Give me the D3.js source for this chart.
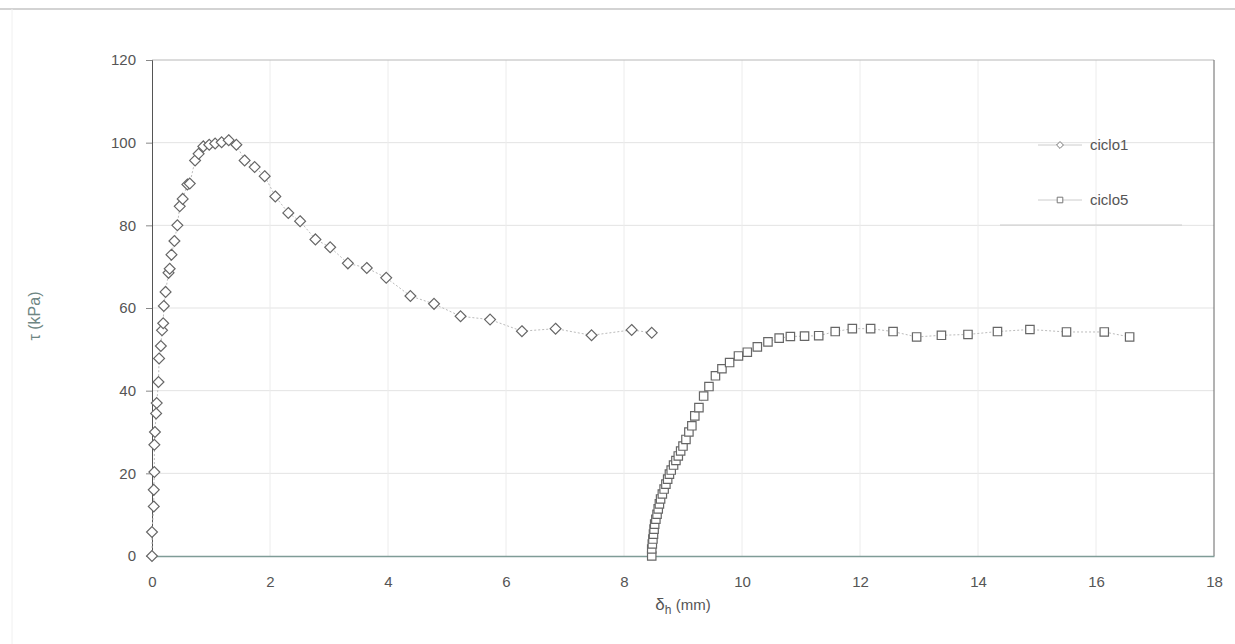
<!DOCTYPE html>
<html><head><meta charset="utf-8">
<script src="https://cdn.jsdelivr.net/npm/d3@7"></script>
<style>body{margin:0;background:#fff}svg{display:block}text{font-family:"Liberation Sans",Arial,sans-serif}</style>
</head><body><svg id="c" width="1235" height="644"></svg>
<script>
const ciclo1X = [0,0,0.03,0.03,0.04,0.04,0.05,0.07,0.08,0.11,0.12,0.15,0.17,0.19,0.2,0.23,0.28,0.3,0.33,0.38,0.43,0.47,0.52,0.6,0.64,0.73,0.79,0.87,0.97,1.07,1.18,1.3,1.43,1.57,1.74,1.91,2.09,2.31,2.51,2.77,3.02,3.32,3.64,3.97,4.38,4.78,5.23,5.73,6.27,6.84,7.45,8.13,8.47];
const ciclo1Y = [0,5.8,12,16,20.3,26.9,30,34.5,37,42.1,47.8,50.8,54.6,56.3,60.5,63.9,68.5,69.5,72.9,76.2,80,84.6,86.4,89.9,90.1,95.7,97.3,99.1,99.5,99.8,100.1,100.6,99.5,95.7,94.1,91.9,87,83,81,76.6,74.7,70.8,69.7,67.3,62.9,61,58,57.2,54.4,55,53.4,54.7,54];
const ciclo5X = [8.47,8.47,8.48,8.49,8.5,8.51,8.52,8.54,8.56,8.58,8.6,8.62,8.65,8.68,8.71,8.74,8.77,8.8,8.84,8.88,8.92,8.96,9.0,9.05,9.1,9.15,9.2,9.27,9.35,9.44,9.55,9.66,9.79,9.94,10.09,10.26,10.44,10.63,10.82,11.06,11.3,11.58,11.87,12.18,12.56,12.96,13.38,13.83,14.33,14.88,15.5,16.14,16.57];
const ciclo5Y = [0,1.7,2.9,4.1,5.3,6.5,7.7,8.9,10.1,11.4,12.6,13.8,15,16.2,17.4,18.6,19.8,20.8,22,23.1,24.2,25.4,26.6,28.2,30,31.5,33.9,35.9,38.7,41,43.6,45.3,46.8,48.4,49.3,50.6,51.8,52.7,53.1,53.2,53.3,54.3,55,55,54.3,53,53.4,53.6,54.3,54.8,54.2,54.2,53];
const xTicks = [0,2,4,6,8,10,12,14,16,18];
const yTicks = [0,20,40,60,80,100,120];
const seriesNames = ["ciclo1","ciclo5"];

const svg = d3.select("#c");
const L=152,R=1214,T=60,B=556;
const x = d3.scaleLinear().domain([0,18]).range([L,R]);
const y = d3.scaleLinear().domain([0,120]).range([B,T]);

// outer frame
svg.append("line").attr("x1",0).attr("x2",1235).attr("y1",9).attr("y2",9).attr("stroke","#c4c4c4").attr("stroke-width",1.5);
svg.append("line").attr("x1",12).attr("x2",12).attr("y1",9).attr("y2",644).attr("stroke","#f0f0f0").attr("stroke-width",1);

// grid
svg.append("g").selectAll("line").data(yTicks.slice(1,-1)).join("line")
  .attr("x1",L).attr("x2",R).attr("y1",d=>y(d)).attr("y2",d=>y(d)).attr("stroke","#e3e3e3").attr("stroke-width",1);
svg.append("g").selectAll("line").data(xTicks.slice(1,-1)).join("line")
  .attr("y1",T).attr("y2",B).attr("x1",d=>x(d)).attr("x2",d=>x(d)).attr("stroke","#ececec").attr("stroke-width",1);
// borders
svg.append("line").attr("x1",L).attr("x2",R).attr("y1",T).attr("y2",T).attr("stroke","#b8b8b8");
svg.append("line").attr("x1",R).attr("x2",R).attr("y1",T).attr("y2",B).attr("stroke","#666");

// axes
const yAxis = svg.append("g").attr("transform",`translate(${L},0)`).call(d3.axisLeft(y).tickValues(yTicks).tickSize(6).tickPadding(10));
const xAxis = svg.append("g").attr("transform",`translate(0,${B})`).call(d3.axisBottom(x).tickValues(xTicks).tickSize(0).tickPadding(20));
yAxis.select(".domain").attr("stroke","#555");
yAxis.selectAll(".tick line").attr("stroke","#888");
xAxis.select(".domain").attr("stroke","#7f9c97").attr("stroke-width",1.5);
[yAxis,xAxis].forEach(a=>a.selectAll("text").attr("fill","#555").attr("font-size",15).attr("font-family","Liberation Sans, Arial, sans-serif"));

// axis titles
svg.append("text").attr("transform",`translate(40,${(T+B)/2+8}) rotate(-90)`).attr("text-anchor","middle")
  .attr("fill","#6e8683").attr("font-size",16).text("τ (kPa)");
const xt = svg.append("text").attr("x",(L+R)/2).attr("y",610).attr("text-anchor","middle").attr("fill","#555").attr("font-size",17);
xt.append("tspan").text("δ");
xt.append("tspan").attr("font-size",12).attr("dy",4).text("h");
xt.append("tspan").attr("dy",-4).attr("font-size",15).text(" (mm)");

const line = d3.line().x(d=>x(d[0])).y(d=>y(d[1]));
const d1 = ciclo1X.map((v,i)=>[v,ciclo1Y[i]]);
const d5 = ciclo5X.map((v,i)=>[v,ciclo5Y[i]]);
svg.append("path").datum(d1).attr("d",line).attr("fill","none").attr("stroke","#bbb").attr("stroke-width",1).attr("stroke-dasharray","2,2");
svg.append("path").datum(d5).attr("d",line).attr("fill","none").attr("stroke","#bbb").attr("stroke-width",1).attr("stroke-dasharray","2,2");

const diamond = d3.symbol().type(d3.symbolDiamond2).size(75);
const square = d3.symbol().type(d3.symbolSquare2).size(90);
svg.append("g").selectAll("path").data(d1).join("path")
  .attr("transform",d=>`translate(${x(d[0])},${y(d[1])})`).attr("d",diamond)
  .attr("fill","#fff").attr("stroke","#666").attr("stroke-width",1.2);
svg.append("g").selectAll("path").data(d5).join("path")
  .attr("transform",d=>`translate(${x(d[0])},${y(d[1])})`).attr("d",square)
  .attr("fill","#fff").attr("stroke","#666").attr("stroke-width",1.2);

// legend
const lg = svg.append("g");
lg.append("line").attr("x1",1000).attr("x2",1182).attr("y1",225).attr("y2",225).attr("stroke","#ccc");
const items = [{n:seriesNames[0],s:d3.symbol().type(d3.symbolDiamond2).size(30),yy:145},{n:seriesNames[1],s:d3.symbol().type(d3.symbolSquare2).size(40),yy:200}];
items.forEach(it=>{
  lg.append("line").attr("x1",1038).attr("x2",1082).attr("y1",it.yy).attr("y2",it.yy).attr("stroke","#ccc");
  lg.append("path").attr("d",it.s).attr("transform",`translate(1060,${it.yy})`).attr("fill","#fff").attr("stroke","#777");
  lg.append("text").attr("x",1090).attr("y",it.yy+5).attr("fill","#555").attr("font-size",15).text(it.n);
});
</script></body></html>
